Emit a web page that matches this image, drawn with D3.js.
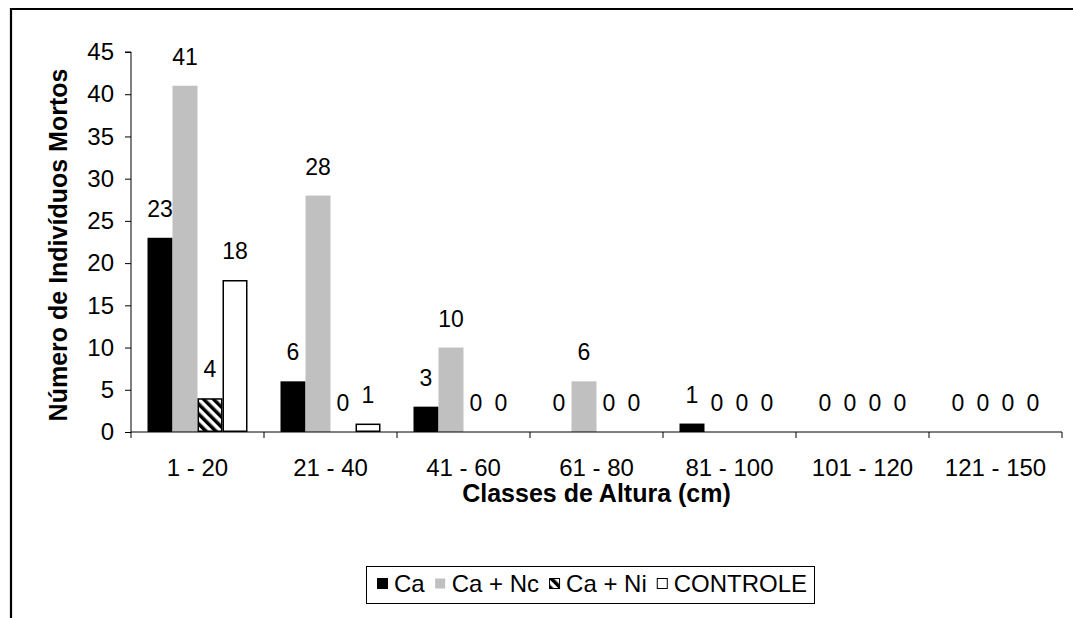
<!DOCTYPE html>
<html>
<head>
<meta charset="utf-8">
<script src="https://cdn.jsdelivr.net/npm/d3@7"></script>
<style>
  html, body { margin: 0; padding: 0; background: #fff; }
  svg { display: block; font-family: "Liberation Sans", Arial, sans-serif; }
</style>
</head>
<body>
<svg id="chart" width="1073" height="618"></svg>
<script>
// Height classes (cm) on the x axis
const categories = ["1 - 20", "21 - 40", "41 - 60", "61 - 80", "81 - 100", "101 - 120", "121 - 150"];
// Treatments
const seriesNames = ["Ca", "Ca + Nc", "Ca + Ni", "CONTROLE"];
// Dead individuals per height class, one array per treatment
const caValues       = [23, 6, 3, 0, 1, 0, 0];
const caNcValues     = [41, 28, 10, 6, 0, 0, 0];
const caNiValues     = [4, 0, 0, 0, 0, 0, 0];
const controleValues = [18, 1, 0, 0, 0, 0, 0];
const yTicks = [0, 5, 10, 15, 20, 25, 30, 35, 40, 45];

const seriesValues = [caValues, caNcValues, caNiValues, controleValues];

const FONT = "Liberation Sans, Arial, sans-serif";
const svg = d3.select("#chart");

// hatch pattern for "Ca + Ni"
const defs = svg.append("defs");
const pat = defs.append("pattern")
  .attr("id", "hatch")
  .attr("patternUnits", "userSpaceOnUse")
  .attr("width", 7).attr("height", 7)
  .attr("patternTransform", "rotate(-45)");
pat.append("rect").attr("width", 7).attr("height", 7).attr("fill", "#fff");
pat.append("rect").attr("x", 0).attr("y", 0).attr("width", 3.5).attr("height", 7).attr("fill", "#000");

const fills = { "Ca": "#000", "Ca + Nc": "#c0c0c0", "Ca + Ni": "url(#hatch)", "CONTROLE": "#fff" };
const strokes = { "Ca": "#000", "Ca + Nc": "none", "Ca + Ni": "#000", "CONTROLE": "#000" };

// outer frame (top and left edges)
svg.append("path")
  .attr("d", "M11,618 V9 H1073")
  .attr("fill", "none").attr("stroke", "#000").attr("stroke-width", 2.2);

const plot = { left: 131, right: 1062, top: 52, bottom: 432 };

const x = d3.scaleBand().domain(categories).range([plot.left, plot.right]).padding(0);
const x1 = d3.scaleBand().domain(seriesNames).range([0, x.bandwidth()]).paddingInner(0).paddingOuter(0.66);
const y = d3.scaleLinear().domain([0, 45]).range([plot.bottom, plot.top]);

// rows: one per category/series pair
const rows = [];
categories.forEach((c, i) => {
  seriesNames.forEach((s, j) => rows.push({ cat: c, series: s, value: seriesValues[j][i] }));
});

// bars
const inset = d => strokes[d.series] === "none" ? 0 : 0.75;
svg.append("g").selectAll("rect")
  .data(rows.filter(d => d.value > 0))
  .join("rect")
  .attr("x", d => x(d.cat) + x1(d.series) + inset(d))
  .attr("y", d => y(d.value) + inset(d))
  .attr("width", d => x1.bandwidth() - 2 * inset(d))
  .attr("height", d => y(0) - y(d.value) - 2 * inset(d))
  .attr("fill", d => fills[d.series])
  .attr("stroke", d => strokes[d.series])
  .attr("stroke-width", 1.5);

// y axis
const yAxis = d3.axisLeft(y).tickValues(yTicks).tickSize(6).tickPadding(11);
const gy = svg.append("g").attr("transform", `translate(${plot.left},0)`).call(yAxis);
gy.select(".domain").attr("stroke", "#000").attr("d", `M-6,${plot.top}H0V${plot.bottom}`);
gy.selectAll(".tick line").attr("stroke", "#000");
gy.selectAll(".tick text").attr("font-size", 24).attr("font-family", FONT).attr("fill", "#000");

// x axis
const xAxis = d3.axisBottom(x).tickSize(0).tickPadding(27);
const gx = svg.append("g").attr("transform", `translate(0,${plot.bottom})`).call(xAxis);
gx.select(".domain").attr("stroke", "#000").attr("d", `M${plot.left},0H${plot.right}`);
gx.selectAll(".tick text").attr("font-size", 24).attr("font-family", FONT).attr("fill", "#000");
// category separators
gx.append("g").selectAll("line")
  .data(categories.concat(["__end"]))
  .join("line")
  .attr("x1", (d, i) => i < categories.length ? x(d) : plot.right)
  .attr("x2", (d, i) => i < categories.length ? x(d) : plot.right)
  .attr("y1", 0).attr("y2", 6)
  .attr("stroke", "#000");

// value labels
svg.append("g").selectAll("text")
  .data(rows)
  .join("text")
  .attr("x", d => x(d.cat) + x1(d.series) + x1.bandwidth() / 2)
  .attr("y", d => y(d.value) - 21)
  .attr("text-anchor", "middle")
  .attr("font-size", 23)
  .attr("fill", "#000")
  .text(d => d.value);

// axis titles
svg.append("text")
  .attr("transform", `translate(67,${(plot.top + plot.bottom) / 2 + 3}) rotate(-90)`)
  .attr("text-anchor", "middle")
  .attr("font-size", 25).attr("font-weight", "bold")
  .text("Número de Indivíduos Mortos");

svg.append("text")
  .attr("x", (plot.left + plot.right) / 2)
  .attr("y", 502)
  .attr("text-anchor", "middle")
  .attr("font-size", 25).attr("font-weight", "bold")
  .text("Classes de Altura (cm)");

// legend: marker + label, laid out left to right
const legend = svg.append("g");
legend.append("rect")
  .attr("x", 366.5).attr("y", 566.5).attr("width", 448).attr("height", 37)
  .attr("fill", "#fff").attr("stroke", "#000").attr("stroke-width", 1);
let lx = 377;
seriesNames.forEach(s => {
  legend.append("rect")
    .attr("x", lx + 0.5).attr("y", 578.5).attr("width", 10).attr("height", 10)
    .attr("fill", fills[s]).attr("stroke", strokes[s] === "none" ? "none" : "#000").attr("stroke-width", 1);
  const t = legend.append("text")
    .attr("x", lx + 17).attr("y", 592)
    .attr("font-size", 24).attr("fill", "#000")
    .text(s);
  lx += 17 + t.node().getComputedTextLength() + 10;
});
</script>
</body>
</html>
